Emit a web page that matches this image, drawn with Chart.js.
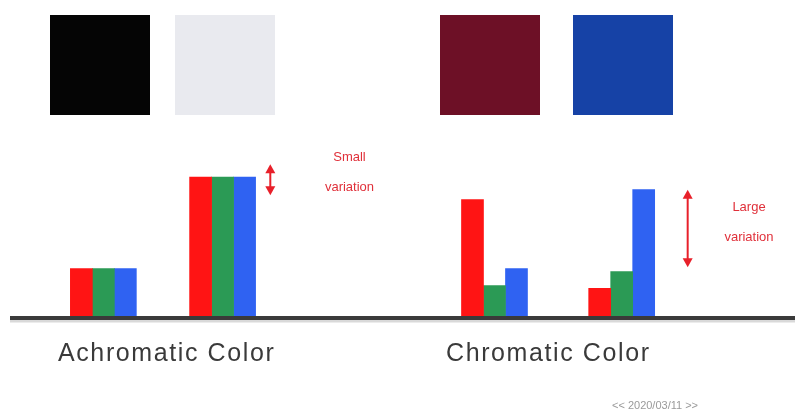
<!DOCTYPE html>
<html>
<head>
<meta charset="utf-8">
<script src="https://cdn.jsdelivr.net/npm/chart.js@4/dist/chart.umd.min.js"></script>
<style>
    html, body { margin: 0; padding: 0; background: #fff; }
    #wrap { position: relative; width: 795px; height: 416px; overflow: hidden; font-family: "Liberation Sans", Arial, sans-serif; }
    #wrap canvas { position: absolute; left: 0; top: 0; }
    .swatch { position: absolute; top: 15px; width: 100px; height: 100px; }
    .lbl { position: absolute; color: #3a3a3a; font-size: 25px; letter-spacing: 1.6px; white-space: nowrap; }
    .note { position: absolute; color: #e0303a; font-size: 13px; line-height: 30px; text-align: center; white-space: nowrap; }
    .mark { position: absolute; color: #9a9a9a; font-size: 11px; white-space: nowrap; }
</style>
</head>
<body>
<div id="wrap">
    <canvas id="myChart" width="795" height="416"></canvas>
    <div class="swatch" style="left:50px;background:#050505"></div>
    <div class="swatch" style="left:175px;background:#e9eaef"></div>
    <div class="swatch" style="left:440px;background:#6d1026"></div>
    <div class="swatch" style="left:573px;background:#1642a6"></div>
    <div class="lbl" style="left:58px;top:338px">Achromatic Color</div>
    <div class="lbl" style="left:446px;top:338px">Chromatic Color</div>
    <div class="note" style="left:302px;top:142px;width:95px">Small<br>variation</div>
    <div class="note" style="left:703px;top:192px;width:92px">Large<br>variation</div>
    <div class="mark" style="left:612px;top:399px">&lt;&lt; 2020/03/11 &gt;&gt;</div>
</div>
<script>
// groups: two achromatic swatches, two chromatic swatches
const categories = ["Black", "Light gray", "Dark red", "Blue"];
const groupX = [1.3, 2.8, 6.22, 7.82];

// RGB channel response per swatch
const redValues = [35, 100, 84, 21];
const greenValues = [35, 100, 23, 33];
const blueValues = [35, 100, 35, 91];

// variation arrows: [x, from, to]
const arrows = [
    [3.4, 109, 87],
    [8.65, 91, 36],
];

function points(vals) {
    return vals.map((v, i) => ({ x: groupX[i], y: v }));
}

const extras = {
    id: "extras",
    afterDatasetsDraw(chart) {
        const { ctx, scales } = chart;
        const x = scales.x, y = scales.y;
        ctx.save();
        // baseline
        const y0 = y.getPixelForValue(0);
        ctx.strokeStyle = "rgba(0,0,0,0.15)";
        ctx.lineWidth = 3;
        ctx.beginPath();
        ctx.moveTo(10, y0 + 3);
        ctx.lineTo(795, y0 + 3);
        ctx.stroke();
        ctx.strokeStyle = "#3a3a3a";
        ctx.lineWidth = 4;
        ctx.beginPath();
        ctx.moveTo(10, y0);
        ctx.lineTo(795, y0);
        ctx.stroke();
        // arrows
        ctx.strokeStyle = "#e8202a";
        ctx.fillStyle = "#e8202a";
        ctx.lineWidth = 2;
        arrows.forEach(([ax, from, to]) => {
            const px = x.getPixelForValue(ax);
            const p1 = y.getPixelForValue(from);
            const p2 = y.getPixelForValue(to);
            ctx.beginPath();
            ctx.moveTo(px, p1 + 6);
            ctx.lineTo(px, p2 - 6);
            ctx.stroke();
            [[p1, 1], [p2, -1]].forEach(([p, d]) => {
                ctx.beginPath();
                ctx.moveTo(px, p);
                ctx.lineTo(px - 5, p + d * 9);
                ctx.lineTo(px + 5, p + d * 9);
                ctx.closePath();
                ctx.fill();
            });
        });
        ctx.restore();
    },
};

new Chart(document.getElementById("myChart"), {
    type: "bar",
    data: {
        labels: categories,
        datasets: [
            { label: "R", data: points(redValues), backgroundColor: "#ff1414" },
            { label: "G", data: points(greenValues), backgroundColor: "#2b9a55" },
            { label: "B", data: points(blueValues), backgroundColor: "#2f62f2" },
        ],
    },
    options: {
        responsive: false,
        animation: false,
        barThickness: 22,
        layout: { padding: { top: 120.6, bottom: 98, left: 0, right: 0 } },
        scales: {
            x: { type: "linear", min: 0, max: 10, offset: false, display: false },
            y: { min: 0, max: 140, display: false },
        },
        plugins: {
            legend: { display: false },
            tooltip: { enabled: false },
        },
    },
    plugins: [extras],
});
</script>
</body>
</html>
